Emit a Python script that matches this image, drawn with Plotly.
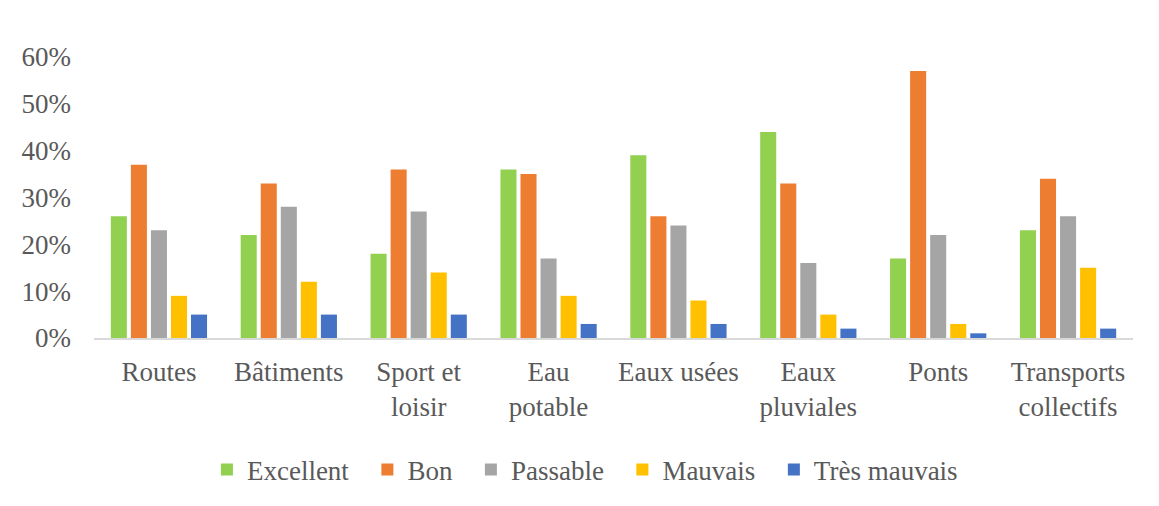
import plotly.graph_objects as go

categories = ["Routes", "Bâtiments", "Sport et<br>loisir", "Eau<br>potable", "Eaux usées",
              "Eaux<br>pluviales", "Ponts", "Transports<br>collectifs"]
excellent = [26, 22, 18, 36, 39, 44, 17, 23]
bon = [37, 33, 36, 35, 26, 33, 57, 34]
passable = [23, 28, 27, 17, 24, 16, 22, 26]
mauvais = [9, 12, 14, 9, 8, 5, 3, 15]
tres_mauvais = [5, 5, 5, 3, 3, 2, 1, 2]

pad = "\u00a0\u00a0"
series = [
    ("Excellent" + pad, excellent, "#92D050"),
    ("Bon" + pad, bon, "#ED7D31"),
    ("Passable" + pad, passable, "#A5A5A5"),
    ("Mauvais" + pad, mauvais, "#FFC000"),
    ("Très mauvais", tres_mauvais, "#4472C4"),
]

fig = go.Figure()
for name, vals, color in series:
    fig.add_trace(go.Bar(x=categories, y=[v / 100 for v in vals], name=name,
                         marker=dict(color=color, line=dict(width=0))))

font_family = "Liberation Serif"
fs = 27
fig.update_layout(
    width=1143, height=490,
    margin=dict(l=86, r=18, t=49, b=160, autoexpand=False),
    plot_bgcolor="white", paper_bgcolor="white",
    barmode="group", bargap=0.228, bargroupgap=0.2,
    font=dict(family=font_family, size=fs, color="#595959"),
    showlegend=True,
    legend=dict(orientation="h", x=0.4725, xanchor="center", y=-0.47, yanchor="middle",
                font=dict(size=fs, color="#595959"), itemsizing="constant",
                traceorder="normal"),
    xaxis=dict(showline=True, linecolor="#D9D9D9", linewidth=1.5, ticks="",
               showgrid=False, tickfont=dict(size=fs, color="#595959"),
               ticklabelstandoff=9, automargin=False),
    yaxis=dict(range=[0, 0.6], dtick=0.1, tickformat=".0%", showgrid=False,
               zeroline=False, showline=False, ticks="",
               tickfont=dict(size=fs, color="#595959"), ticklabelstandoff=22,
               automargin=False),
)

fig.write_html("out.html")
